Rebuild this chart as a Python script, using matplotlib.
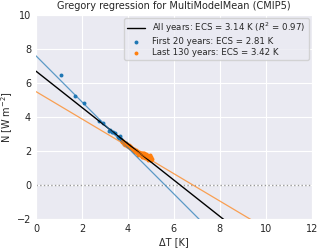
import numpy as np
import matplotlib
matplotlib.use('Agg')
import matplotlib.pyplot as plt
import seaborn as sns

# first 20 years (dT, N)
first_dt = [1.07, 1.71, 2.09, 2.76, 2.93, 3.19, 3.22, 3.30, 3.37, 3.45,
            3.58, 3.62, 3.65, 3.70, 3.75, 3.80, 3.85, 3.90, 3.95, 4.00]
first_n = [6.46, 5.26, 4.81, 3.79, 3.67, 3.20, 3.25, 3.10, 3.14, 3.05,
           2.85, 2.78, 2.90, 2.70, 2.60, 2.55, 2.45, 2.50, 2.35, 2.30]

# last 130 years (dT, N)
last_dt = [3.72, 3.76, 3.79, 3.83, 3.86, 3.88, 3.92, 3.95, 3.97, 4.01,
           4.03, 4.06, 4.08, 4.11, 4.13, 4.16, 4.19, 4.21, 4.24, 4.26,
           4.28, 4.31, 4.33, 4.35, 4.37, 4.40, 4.41, 4.43, 4.45, 4.47,
           4.49, 4.50, 4.52, 4.54, 4.55, 4.57, 4.59, 4.60, 4.62, 4.63,
           4.65, 4.66, 4.68, 4.69, 4.71, 4.72, 4.74, 4.75, 4.77, 4.78,
           4.80, 4.81, 4.83, 4.84, 4.86, 4.87, 4.89, 4.90, 4.92, 4.94,
           4.95, 4.97, 4.98, 5.00, 5.02, 5.04, 4.58, 4.67, 4.73, 4.85,
           4.91, 4.99, 4.44, 4.61, 4.79, 4.88, 4.96, 5.01, 4.70, 4.82]
last_n = [2.58, 2.52, 2.60, 2.45, 2.50, 2.38, 2.44, 2.33, 2.40, 2.28,
          2.35, 2.22, 2.30, 2.18, 2.25, 2.12, 2.20, 2.08, 2.15, 2.02,
          2.10, 1.98, 2.06, 1.95, 2.03, 1.92, 1.99, 1.88, 1.96, 1.85,
          1.93, 1.82, 1.90, 1.79, 1.87, 1.76, 1.84, 1.73, 1.92, 1.70,
          1.80, 1.68, 1.86, 1.66, 1.78, 1.64, 1.83, 1.62, 1.75, 1.60,
          1.72, 1.58, 1.80, 1.63, 1.70, 1.56, 1.74, 1.52, 1.66, 1.55,
          1.69, 1.50, 1.62, 1.48, 1.58, 1.53, 1.90, 1.88, 1.70, 1.77,
          1.60, 1.66, 1.80, 1.64, 1.85, 1.50, 1.75, 1.46, 1.92, 1.68]

# regression: forcing (N at dT=0) and ECS
labels = ['All years', 'First 20 years', 'Last 130 years']
forcing = [6.70, 7.60, 5.50]
ecs = [3.14, 2.81, 3.42]
r2_all = 0.97

sns.set_style('darkgrid')
plt.rcParams['font.family'] = ['DejaVu Sans']

fig = plt.figure(figsize=(3.2, 2.5), dpi=100)
ax = fig.add_axes([0.1125, 0.123, 0.862, 0.817])

ax.axhline(0, color='gray', linestyle=':', linewidth=1.0, alpha=0.8)

pts1 = ax.scatter(first_dt, first_n, s=8, color='C0', linewidths=0, zorder=3)
pts2 = ax.scatter(last_dt, last_n, s=8, color='C1', linewidths=0, zorder=3)

x = np.array([0.0, 12.0])
cols = ['black', 'C0', 'C1']
lws = [1.0, 0.9, 0.9]
alphas = [1.0, 0.7, 0.7]
handles = []
for f, e, c, lw, a in zip(forcing, ecs, cols, lws, alphas):
    slope = -f / (2 * e)
    h, = ax.plot(x, f + slope * x, color=c, linewidth=lw, alpha=a, zorder=4)
    handles.append(h)

leg_labels = [
    f'{labels[0]}: ECS = {ecs[0]:.2f} K ($R^2$ = {r2_all:.2f})',
    f'{labels[1]}: ECS = {ecs[1]:.2f} K',
    f'{labels[2]}: ECS = {ecs[2]:.2f} K',
]
ax.legend([handles[0], pts1, pts2], leg_labels, loc='upper right', fontsize=6.2,
          markerscale=1.0, handlelength=2.1, borderpad=0.35, labelspacing=0.2,
          borderaxespad=0.35)

ax.set_xlim(0, 12)
ax.set_ylim(-2, 10)
ax.set_xticks([0, 2, 4, 6, 8, 10, 12])
ax.set_yticks([-2, 0, 2, 4, 6, 8, 10])
ax.tick_params(labelsize=7, length=0, pad=3.5)
ax.set_xlabel('ΔT [K]', fontsize=7, labelpad=2)
ax.set_ylabel('N [W m$^{-2}$]', fontsize=7, labelpad=1.5)
ax.set_title('Gregory regression for MultiModelMean (CMIP5)', fontsize=7.0, pad=4)

fig.savefig('out.png', dpi=100)
